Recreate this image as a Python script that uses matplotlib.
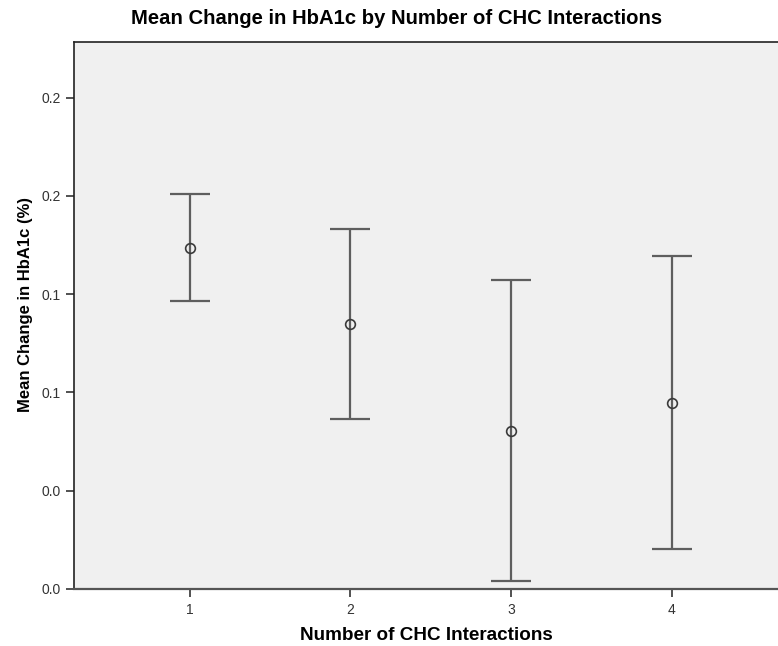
import numpy as np
import matplotlib.pyplot as plt

plt.rcParams['font.family'] = ['Liberation Sans', 'DejaVu Sans']

# data
interactions = [1, 2, 3, 4]
mean_change = [0.1389, 0.1078, 0.0644, 0.0758]
ci_upper = [0.1607, 0.1466, 0.1259, 0.1355]
ci_lower = [0.1173, 0.0692, 0.0034, 0.0162]
y_ticks = [0.00, 0.04, 0.08, 0.12, 0.16, 0.20]
y_tick_labels = ['0.0', '0.0', '0.1', '0.1', '0.2', '0.2']

fig = plt.figure(figsize=(7.78, 6.46), dpi=100)
ax = fig.add_axes([74 / 778, 57 / 646, 1 - 74 / 778, (589 - 42) / 646])
ax.set_facecolor('#f0f0f0')

x = np.array(interactions)
m = np.array(mean_change)
err = [m - np.array(ci_lower), np.array(ci_upper) - m]
ax.errorbar(x, m, yerr=err, fmt='none', ecolor='#5e5e5e', elinewidth=1.6,
            capsize=14.5, capthick=1.6)
ax.plot(x, m, 'o', markersize=7, markerfacecolor='none',
        markeredgecolor='#3a3a3a', markeredgewidth=1.2)

ax.set_xlim(0.28, 4.66)
ax.set_ylim(0, 0.2226)
ax.set_xticks(interactions)
ax.set_xticklabels([str(i) for i in interactions])
ax.set_yticks(y_ticks)
ax.set_yticklabels(y_tick_labels)
ax.tick_params(axis='both', labelsize=10, colors='#333333', length=6, width=1.2)
ax.tick_params(axis='x', pad=4)

ax.spines['right'].set_visible(False)
for s in ['left', 'top']:
    ax.spines[s].set_color('#222222')
    ax.spines[s].set_linewidth(1.2)
ax.spines['bottom'].set_color('#555555')
ax.spines['bottom'].set_linewidth(1.6)

ax.set_xlabel('Number of CHC Interactions', fontsize=13.6, fontweight='bold', labelpad=7)
ax.set_ylabel('Mean Change in HbA1c (%)', fontsize=12, fontweight='bold')
ax.yaxis.set_label_coords(-0.058, 0.521)
fig.text(397 / 778, 1 - 19 / 646, 'Mean Change in HbA1c by Number of CHC Interactions',
         ha='center', va='center', fontsize=14.6, fontweight='bold')

fig.savefig('out.png', dpi=100)
